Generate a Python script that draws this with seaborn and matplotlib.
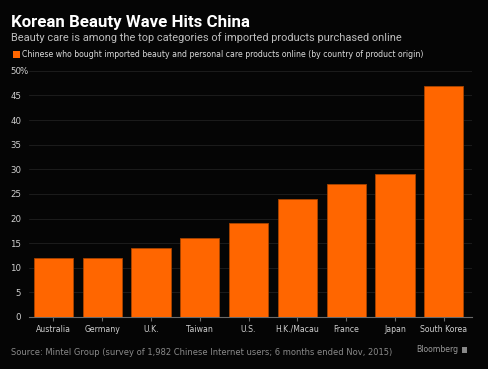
import matplotlib
matplotlib.use("Agg")
import matplotlib.pyplot as plt
import seaborn as sns
import pandas as pd

countries = ["Australia", "Germany", "U.K.", "Taiwan", "U.S.", "H.K./Macau", "France", "Japan", "South Korea"]
values = [12, 12, 14, 16, 19, 24, 27, 29, 47]
yticks = [0, 5, 10, 15, 20, 25, 30, 35, 40, 45, 50]

df = pd.DataFrame({"country": countries, "value": values})

sns.set_style("dark")
plt.rcParams['font.family'] = ['DejaVu Sans']

bg = "#050505"
fig = plt.figure(figsize=(4.88, 3.69), dpi=100, facecolor=bg)
ax = fig.add_axes([0.0594, 0.141, 0.908, 0.667])
ax.set_facecolor(bg)

orange = "#ff6600"
sns.barplot(data=df, x="country", y="value", color=orange, saturation=1, width=0.8,
            edgecolor="#a84400", linewidth=0.6, ax=ax, zorder=3)

ax.set_ylim(0, 50)
ax.set_xlim(-0.5, 8.58)
ax.set_yticks(yticks)
ax.set_yticklabels([str(v) for v in yticks])
ax.yaxis.grid(True, color="#1c1c1c", linewidth=0.7, zorder=0)
ax.xaxis.grid(False)
ax.set_xlabel("")
ax.set_ylabel("")
for s in ["top", "right", "left"]:
    ax.spines[s].set_visible(False)
ax.spines["bottom"].set_color("#6a6a6a")
ax.spines["bottom"].set_linewidth(0.8)
ax.tick_params(axis="y", length=0, colors="#cfcfcf", labelsize=6.2, pad=5.5)
ax.tick_params(axis="x", length=3, color="#6a6a6a", colors="#cfcfcf", labelsize=5.6, pad=2.5, bottom=True)
ax.text(-0.0205, 1.0, "%", transform=ax.transAxes, color="#cfcfcf", fontsize=6.2,
        va="center_baseline", ha="left")

fig.text(0.023, 0.94, "Korean Beauty Wave Hits China", color="white", fontsize=12.2,
         fontweight="bold", family=["Roboto", "DejaVu Sans"], va="center", ha="left")
fig.text(0.023, 0.898, "Beauty care is among the top categories of imported products purchased online",
         color="#bdbdbd", fontsize=7.9, family=["Roboto", "DejaVu Sans"], va="center", ha="left")
fig.patches.append(plt.Rectangle((0.026, 0.843), 0.014, 0.019, transform=fig.transFigure,
                                 facecolor=orange, edgecolor="none"))
fig.text(0.046, 0.852, "Chinese who bought imported beauty and personal care products online (by country of product origin)",
         color="#dddddd", fontsize=5.55, va="center", ha="left")
fig.text(0.023, 0.046, "Source: Mintel Group (survey of 1,982 Chinese Internet users; 6 months ended Nov, 2015)",
         color="#8a8a8a", fontsize=6.0, va="center", ha="left")
fig.text(0.94, 0.052, "Bloomberg", color="#9a9a9a", fontsize=5.6, va="center", ha="right")
fig.patches.append(plt.Rectangle((0.946, 0.044), 0.011, 0.015, transform=fig.transFigure,
                                 facecolor="#888888", edgecolor="none"))

fig.savefig("out.png", dpi=100, facecolor=bg)
